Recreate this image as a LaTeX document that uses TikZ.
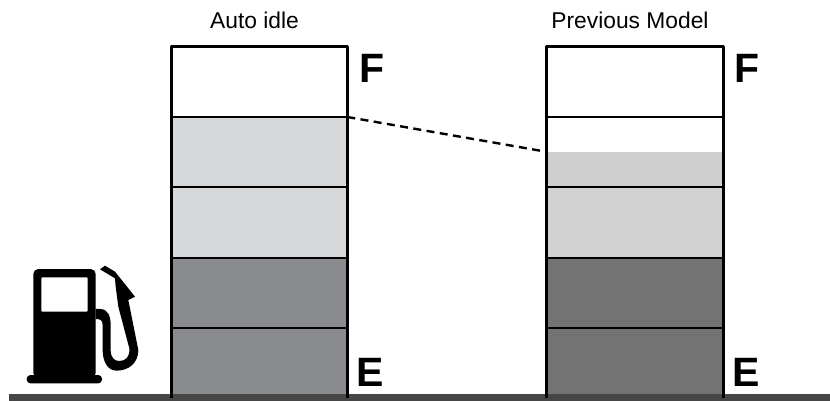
\documentclass[tikz,border=0pt]{standalone}
\usepackage{fontspec}
\setmainfont{Liberation Sans}
\definecolor{ground}{HTML}{464646}
\definecolor{lA}{HTML}{D7D8DA}
\definecolor{lC}{HTML}{8A8B8E}
\definecolor{rA}{HTML}{CFCFCF}
\definecolor{rB}{HTML}{D2D2D2}
\definecolor{rC}{HTML}{737373}
\tikzset{
  wall/.style={line width=3pt,black},
  level/.style={line width=1.8pt,black},
  title/.style={font=\fontsize{22.8}{24}\selectfont,inner sep=0pt,anchor=base},
  gauge/.style={font=\fontsize{41}{42}\selectfont\bfseries,inner sep=0pt,anchor=base},
  dashlink/.style={line width=2.4pt,dash pattern=on 8pt off 5.4pt}
}
\begin{document}
\begin{tikzpicture}[x=1pt,y=-1pt]
\useasboundingbox (0,0) rectangle (830,401);
% ground
\fill[ground] (9,394) rectangle (830,401);
% left fills
\fill[lA] (171,117) rectangle (347,258);
\fill[lC] (171,258) rectangle (347,394);
% right fills
\fill[rA] (547,152) rectangle (723,187);
\fill[rB] (547,187) rectangle (723,258);
\fill[rC] (547,258) rectangle (723,394);
% bars
\foreach \xa/\xb in {171/347.3,546.8/723.3}{
  \foreach \yy in {117,187,258,328} \draw[level] (\xa,\yy) -- (\xb,\yy);
  \draw[wall,line join=round] (\xa,398) -- (\xa,46.4) -- (\xb,46.4) -- (\xb,398);
}
% dashed
\coordinate (fromlevel) at (347.3,117);
\coordinate (tolevel) at (542,151);
\draw[dashlink] (fromlevel) -- (tolevel);
% labels
\node[title] (tA) at (254.5,29) {Auto idle};
\node[title] (tB) at (630,29) {Previous Model};
\node[gauge] (fA) at (372.2,82.7) {F};
\node[gauge] (fB) at (747.5,82.7) {F};
\node[gauge] (eA) at (370.2,386.7) {E};
\node[gauge] (eB) at (745.7,386.7) {E};
% pump
\fill[black,rounded corners=5pt] (33.3,269) rectangle (95.7,378);
\fill[white,rounded corners=1pt] (41.3,277.3) rectangle (87.7,311.7);
\fill[black,rounded corners=3.8pt] (26.7,375) rectangle (102,383.4);
\begin{scope}[shift={(0,250)},x=0.3333pt,y=-0.3333pt]
\fill[black]
  (385,150) -- (415,300)
  .. controls (415,340) and (385,362) .. (350,362)
  .. controls (320,362) and (308,330) .. (308,300)
  -- (308,225)
  .. controls (308,210) and (300,207) .. (287,207)
  -- (287,177) -- (300,177)
  .. controls (325,177) and (332,200) .. (332,225)
  -- (332,300)
  .. controls (332,325) and (345,333) .. (358,333)
  .. controls (378,333) and (390,320) .. (388,295)
  -- (355,170) -- (347,110) -- (345,85) -- (300,58) -- (315,47) -- (345,65) -- (405,140) -- cycle;
\end{scope}
\end{tikzpicture}
\end{document}
